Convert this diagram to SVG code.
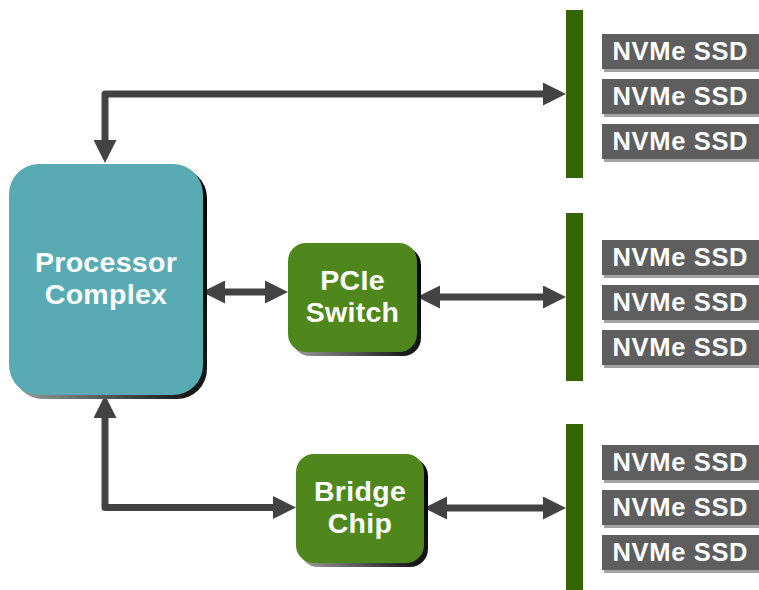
<svg xmlns="http://www.w3.org/2000/svg" width="759" height="590" viewBox="0 0 759 590">
  <defs>
    <linearGradient id="shade" x1="1" y1="0" x2="0" y2="1">
      <stop offset="0" stop-color="#000000"/>
      <stop offset="0.55" stop-color="#1a1a1a"/>
      <stop offset="1" stop-color="#a0a0a0"/>
    </linearGradient>
    <marker id="head" viewBox="0 0 23 23" markerWidth="23" markerHeight="23" refX="11" refY="11.5" markerUnits="userSpaceOnUse" orient="auto-start-reverse">
      <path d="M0,0 L23,11.5 L0,23 Z" fill="#434343"/>
    </marker>
    <style>
      .shadow { fill: url(#shade); }
      .proc { fill: #59abb3; }
      .chip { fill: #4f871d; }
      .bus { fill: #336600; }
      .ssd { fill: #5e5e5e; }
      .ssd-shadow { fill: #a3a3a3; }
      .label { font-family: "Liberation Sans", Arial, sans-serif; font-weight: bold; fill: #ffffff; text-anchor: middle; }
      .big { font-size: 28.5px; letter-spacing: 0.3px; }
      .small { font-size: 25.5px; }
      .wire { fill: none; stroke: #434343; stroke-width: 7; stroke-linejoin: round; marker-start: url(#head); marker-end: url(#head); }
    </style>
  </defs>

  <rect width="759" height="590" fill="#ffffff"/>

  <!-- connectors -->
  <g id="connectors">
    <path class="wire" d="M105,151 V94 H554"/>
    <path class="wire" d="M214,292 H276"/>
    <path class="wire" d="M429,297 H554"/>
    <path class="wire" d="M105,407 V507.5 H284"/>
    <path class="wire" d="M436,508 H554"/>
  </g>

  <!-- processor -->
  <g id="processor-complex">
    <rect class="shadow" x="13" y="168" width="194" height="231" rx="30"/>
    <rect class="proc" x="9" y="164" width="194" height="231" rx="30"/>
    <text class="label big" x="106" y="272">Processor</text>
    <text class="label big" x="106" y="304">Complex</text>
  </g>

  <g id="pcie-switch">
    <rect class="shadow" x="292" y="247" width="129" height="109" rx="18"/>
    <rect class="chip" x="288" y="243" width="129" height="109" rx="18"/>
    <text class="label big" x="352.5" y="290">PCIe</text>
    <text class="label big" x="352.5" y="322">Switch</text>
  </g>

  <g id="bridge-chip">
    <rect class="shadow" x="300" y="458" width="128" height="109" rx="18"/>
    <rect class="chip" x="296" y="454" width="128" height="109" rx="18"/>
    <text class="label big" x="360" y="501">Bridge</text>
    <text class="label big" x="360" y="533">Chip</text>
  </g>

  <!-- buses -->
  <g id="bus-1"><rect class="bus" x="566" y="10" width="17" height="168"/></g>
  <g id="bus-2"><rect class="bus" x="566" y="213" width="17" height="168"/></g>
  <g id="bus-3"><rect class="bus" x="566" y="424" width="17" height="166"/></g>

  <!-- drives -->
  <g id="ssd-1-1">
    <rect class="ssd-shadow" x="604" y="37" width="160" height="35"/>
    <rect class="ssd" x="602" y="34" width="160" height="35"/>
    <text class="label small" x="680" y="60" textLength="135" lengthAdjust="spacing">NVMe SSD</text>
  </g>
  <g id="ssd-1-2">
    <rect class="ssd-shadow" x="604" y="82" width="160" height="35"/>
    <rect class="ssd" x="602" y="79" width="160" height="35"/>
    <text class="label small" x="680" y="105" textLength="135" lengthAdjust="spacing">NVMe SSD</text>
  </g>
  <g id="ssd-1-3">
    <rect class="ssd-shadow" x="604" y="127" width="160" height="35"/>
    <rect class="ssd" x="602" y="124" width="160" height="35"/>
    <text class="label small" x="680" y="150" textLength="135" lengthAdjust="spacing">NVMe SSD</text>
  </g>

  <g id="ssd-2-1">
    <rect class="ssd-shadow" x="604" y="243" width="160" height="35"/>
    <rect class="ssd" x="602" y="240" width="160" height="35"/>
    <text class="label small" x="680" y="266" textLength="135" lengthAdjust="spacing">NVMe SSD</text>
  </g>
  <g id="ssd-2-2">
    <rect class="ssd-shadow" x="604" y="288" width="160" height="35"/>
    <rect class="ssd" x="602" y="285" width="160" height="35"/>
    <text class="label small" x="680" y="311" textLength="135" lengthAdjust="spacing">NVMe SSD</text>
  </g>
  <g id="ssd-2-3">
    <rect class="ssd-shadow" x="604" y="333" width="160" height="35"/>
    <rect class="ssd" x="602" y="330" width="160" height="35"/>
    <text class="label small" x="680" y="356" textLength="135" lengthAdjust="spacing">NVMe SSD</text>
  </g>

  <g id="ssd-3-1">
    <rect class="ssd-shadow" x="604" y="448" width="160" height="35"/>
    <rect class="ssd" x="602" y="445" width="160" height="35"/>
    <text class="label small" x="680" y="471" textLength="135" lengthAdjust="spacing">NVMe SSD</text>
  </g>
  <g id="ssd-3-2">
    <rect class="ssd-shadow" x="604" y="493" width="160" height="35"/>
    <rect class="ssd" x="602" y="490" width="160" height="35"/>
    <text class="label small" x="680" y="516" textLength="135" lengthAdjust="spacing">NVMe SSD</text>
  </g>
  <g id="ssd-3-3">
    <rect class="ssd-shadow" x="604" y="538" width="160" height="35"/>
    <rect class="ssd" x="602" y="535" width="160" height="35"/>
    <text class="label small" x="680" y="561" textLength="135" lengthAdjust="spacing">NVMe SSD</text>
  </g>
</svg>
